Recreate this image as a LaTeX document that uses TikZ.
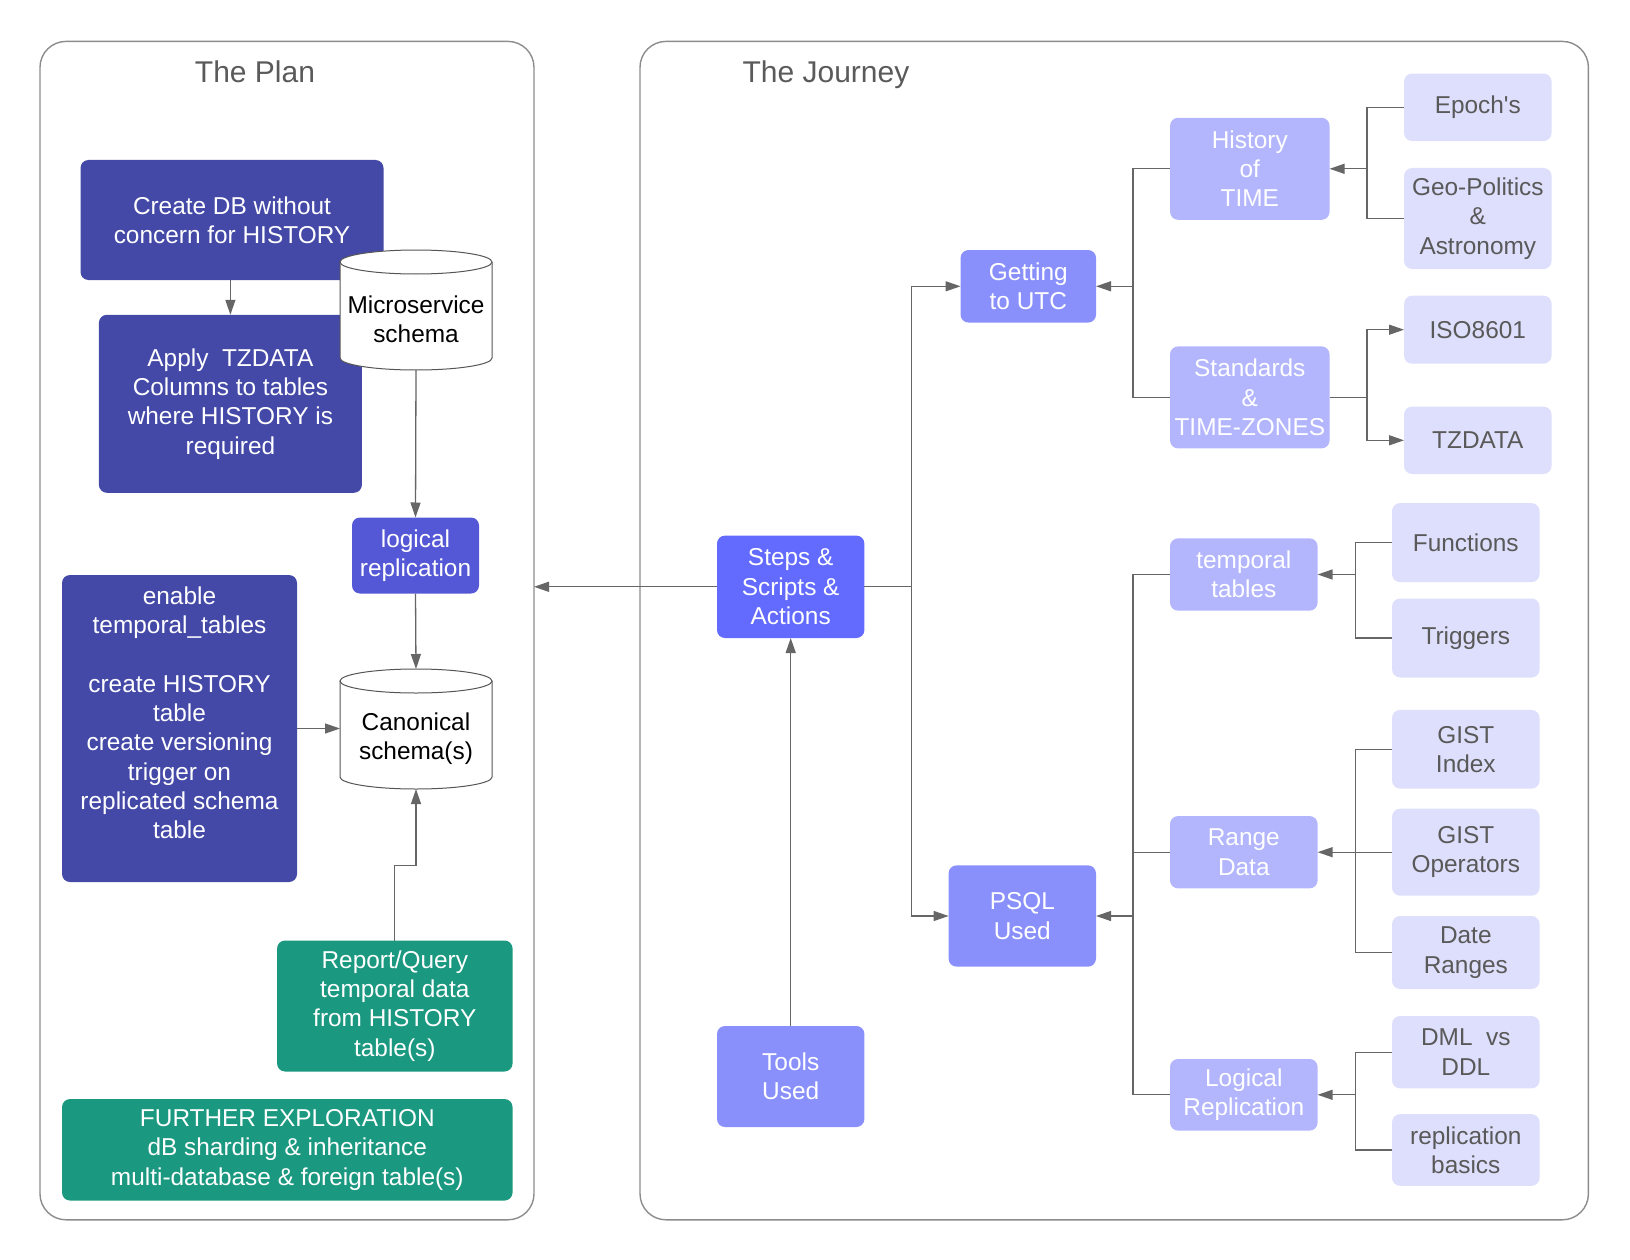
\documentclass[tikz,border=0pt]{standalone}
\usepackage{fontspec}
\setmainfont{Liberation Sans}
\usetikzlibrary{arrows.meta}
\definecolor{cdark}{HTML}{4449A8}
\definecolor{clogrep}{HTML}{5558D6}
\definecolor{csteps}{HTML}{636BFF}
\definecolor{cmid}{HTML}{8A90FB}
\definecolor{clmid}{HTML}{B3B6FC}
\definecolor{clight}{HTML}{DEDFFC}
\definecolor{cgreen}{HTML}{1A9880}
\definecolor{cline}{HTML}{666666}
\definecolor{cframe}{HTML}{8C8C8C}
\definecolor{ctitle}{HTML}{5A5A5A}
\definecolor{cltext}{HTML}{595959}
\definecolor{ccyl}{HTML}{555555}
\begin{document}
\begin{tikzpicture}[x=1pt,y=-1pt,
  base/.style={inner sep=0pt, outer sep=0pt, align=center, font=\fontsize{24.4}{29.3}\selectfont, rounded corners=8pt},
  darkbox/.style={base, fill=cdark, text=white},
  lrbox/.style={base, fill=clogrep, text=white},
  stepbox/.style={base, fill=csteps, text=white},
  midbox/.style={base, fill=cmid, text=white},
  lmidbox/.style={base, fill=clmid, text=white},
  lightbox/.style={base, fill=clight, text=cltext},
  greenbox/.style={base, fill=cgreen, text=white},
  cyltext/.style={base, text=black},
  frame/.style={draw=cframe, line width=1.4pt, rounded corners=26pt, inner sep=0pt, outer sep=0pt},
  ttl/.style={inner sep=0pt, anchor=base, font=\fontsize{30}{34}\selectfont, text=ctitle},
  cyl/.style={draw=ccyl, line width=1pt, fill=white},
  ln/.style={draw=cline, line width=1.3pt},
  arr/.style={ln, -{Triangle[length=15pt,width=10pt]}},
]
\useasboundingbox (0,0) rectangle (1630,1260);

% containers
\node[frame, minimum width=494pt, minimum height=1178.4pt] (plan) at (287,630.6) {};
\node[frame, minimum width=948.4pt, minimum height=1178.4pt] (journey) at (1114.2,630.6) {};
\node[ttl] (plantitle) at (255,82.4) {The Plan};
\node[ttl] (journeytitle) at (826,82.4) {The Journey};

% ---------- The Plan ----------
\node[darkbox, minimum width=303pt, minimum height=120pt] (createdb) at (232,220) {Create DB without\\concern for HISTORY};
\node[darkbox, minimum width=263pt, minimum height=178pt] (apply) at (230.4,403.8) {Apply~ TZDATA\\Columns to tables\\where HISTORY is\\required};

% microservice cylinder
\draw[cyl] (340,262) -- (340,358) .. controls (340,364.63) and (374,370) .. (416,370) .. controls (458,370) and (492,364.63) .. (492,358) -- (492,262);
\draw[cyl] (416,262) ellipse [x radius=76pt, y radius=12pt];
\node[cyltext, minimum width=152pt, minimum height=102pt] (micro) at (416,319) {Microservice\\schema};

\node[lrbox, minimum width=127pt, minimum height=76pt] (logrep) at (415.5,555.5) {logical\\replication};

\node[darkbox, minimum width=235pt, minimum height=307pt] (enable) at (179.5,728.5) {};
\node[inner sep=0pt, align=center, font=\fontsize{24.4}{29.3}\selectfont, text=white] (enabletxt) at (179.5,712.7) {enable\\temporal\_tables\\[29.3pt]create HISTORY\\table\\create versioning\\trigger on\\replicated schema\\table};

% canonical cylinder
\draw[cyl] (340,681) -- (340,777) .. controls (340,783.63) and (374,789) .. (416,789) .. controls (458,789) and (492,783.63) .. (492,777) -- (492,681);
\draw[cyl] (416,681) ellipse [x radius=76pt, y radius=12pt];
\node[cyltext, minimum width=152pt, minimum height=100pt] (canon) at (416,739) {Canonical\\schema(s)};

\node[greenbox, minimum width=235.5pt, minimum height=131pt] (report) at (394.8,1006) {Report/Query\\temporal data\\from HISTORY\\table(s)};
\node[greenbox, minimum width=450.5pt, minimum height=101.5pt] (further) at (287.3,1149.8) {FURTHER EXPLORATION\\dB sharding \& inheritance\\multi-database \& foreign table(s)};

% plan connectors
\draw[arr] (apply.north |- createdb.south) -- (apply.north);
\draw[arr] (micro.south) -- (logrep.north);
\draw[arr] (logrep.south) -- ([yshift=20pt]canon.north);
\draw[arr] (enable.east) -- (enable.east -| canon.west);
\draw[arr] (report.north) -- ++(0,-75.2) -| (canon.south);

% ---------- The Journey ----------
\node[stepbox, minimum width=147.4pt, minimum height=102.4pt] (steps) at (790.7,586.8) {Steps \&\\Scripts \&\\Actions};
\node[midbox, minimum width=147.4pt, minimum height=101pt] (tools) at (790.7,1076.5) {Tools\\Used};
\node[midbox, minimum width=135.5pt, minimum height=72.6pt] (getting) at (1028.3,286.3) {Getting\\to UTC};
\node[midbox, minimum width=147.4pt, minimum height=101.3pt] (psql) at (1022.3,916) {PSQL\\Used};

\node[lmidbox, minimum width=159.5pt, minimum height=102pt] (history) at (1249.8,168.8) {History\\of\\TIME};
\node[lmidbox, minimum width=159.5pt, minimum height=102pt] (standards) at (1249.8,397.4) {Standards\\\&\\TIME-ZONES};
\node[lmidbox, minimum width=147.6pt, minimum height=72.3pt] (temporal) at (1243.8,574.5) {temporal\\tables};
\node[lmidbox, minimum width=147.6pt, minimum height=72.3pt] (range) at (1243.8,852.2) {Range\\Data};
\node[lmidbox, minimum width=147.6pt, minimum height=71.6pt] (logical) at (1243.8,1094.8) {Logical\\Replication};

\node[lightbox, minimum width=147.5pt, minimum height=67.5pt] (epoch) at (1477.8,107.3) {Epoch\textquotesingle s};
\node[lightbox, minimum width=147.5pt, minimum height=101pt] (geo) at (1477.8,218.5) {Geo-Politics\\\&\\Astronomy};
\node[lightbox, minimum width=147.5pt, minimum height=68pt] (iso) at (1477.8,329.7) {ISO8601};
\node[lightbox, minimum width=147.5pt, minimum height=67.4pt] (tzdata) at (1477.8,440.3) {TZDATA};
\node[lightbox, minimum width=147.5pt, minimum height=79pt] (functions) at (1465.8,542.6) {Functions};
\node[lightbox, minimum width=147.5pt, minimum height=79pt] (triggers) at (1465.8,638) {Triggers};
\node[lightbox, minimum width=147.5pt, minimum height=78.7pt] (gistidx) at (1465.8,749.3) {GIST\\Index};
\node[lightbox, minimum width=147.5pt, minimum height=87pt] (gistop) at (1465.8,852.2) {GIST\\Operators};
\node[lightbox, minimum width=147.5pt, minimum height=73pt] (dater) at (1465.8,952.5) {Date\\Ranges};
\node[lightbox, minimum width=147.5pt, minimum height=72.4pt] (dml) at (1465.8,1052.2) {DML~ vs\\DDL};
\node[lightbox, minimum width=147.5pt, minimum height=71.7pt] (replb) at (1465.8,1150) {replication\\basics};

% journey junctions
\coordinate (j1) at (911.7,586.8);
\coordinate (j2) at (1133,286.3);
\coordinate (j3) at (1367,168.8);
\coordinate (j4) at (1367,397.4);
\coordinate (j5) at (1355.5,574.5);
\coordinate (j6) at (1355.5,852.2);
\coordinate (j7) at (1355.5,1094.8);
\coordinate (j8) at (1133,916);

% journey connectors
\draw[arr] (steps.west) -- (steps.west -| plan.east);
\draw[arr] (tools.north) -- (steps.south);
\draw[ln] (steps.east) -- (j1);
\draw[arr] (j1) |- (getting.west);
\draw[arr] (j1) |- (psql.west);

\draw[ln] (history.west) -| (j2);
\draw[ln] (standards.west) -| (j2);
\draw[arr] (j2) -- (getting.east);

\draw[ln] (epoch.west) -| (j3);
\draw[ln] (geo.west) -| (j3);
\draw[arr] (j3) -- (history.east);

\draw[ln] (standards.east) -- (j4);
\draw[arr] (j4) |- (iso.west);
\draw[arr] (j4) |- (tzdata.west);

\draw[ln] (functions.west) -| (j5);
\draw[ln] (triggers.west) -| (j5);
\draw[arr] (j5) -- (temporal.east);

\draw[ln] (gistidx.west) -| (j6);
\draw[ln] (gistop.west) -- (j6);
\draw[ln] (dater.west) -| (j6);
\draw[arr] (j6) -- (range.east);

\draw[ln] (dml.west) -| (j7);
\draw[ln] (replb.west) -| (j7);
\draw[arr] (j7) -- (logical.east);

\draw[ln] (temporal.west) -| (j8);
\draw[ln] (range.west) -| (j8);
\draw[ln] (logical.west) -| (j8);
\draw[arr] (j8) -- (psql.east);
\end{tikzpicture}
\end{document}
